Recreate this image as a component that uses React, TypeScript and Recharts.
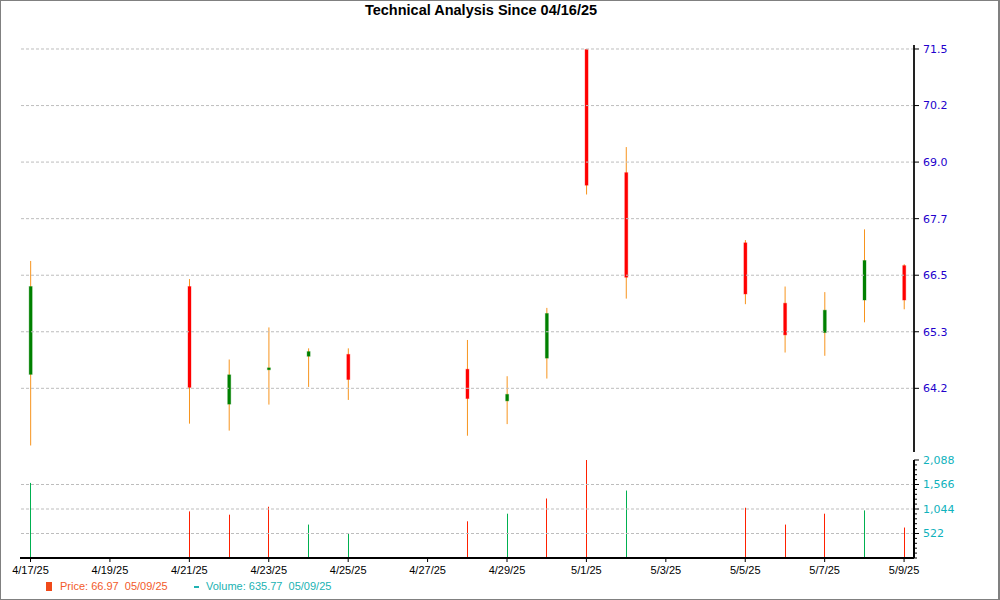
import React from 'react';
import { ComposedChart, Bar, XAxis, YAxis, ReferenceLine, Cell } from 'recharts';

// ---- data ----
const dates = ['4/17/25', '4/21/25', '4/22/25', '4/23/25', '4/24/25', '4/25/25', '4/28/25', '4/29/25', '4/30/25', '5/1/25', '5/2/25', '5/5/25', '5/6/25', '5/7/25', '5/8/25', '5/9/25'];
const dayIndex = [0, 4, 5, 6, 7, 8, 11, 12, 13, 14, 15, 18, 19, 20, 21, 22];
const opens = [64.5, 66.39, 63.86, 64.6, 64.89, 64.93, 64.61, 63.93, 64.85, 71.49, 68.84, 67.33, 66.03, 65.4, 66.1, 66.84];
const highs = [66.94, 66.55, 64.82, 65.51, 65.06, 65.06, 65.24, 64.46, 65.93, 71.5, 69.39, 67.39, 66.39, 66.27, 67.62, 66.87];
const lows = [62.97, 63.44, 63.29, 63.85, 64.23, 63.95, 63.18, 63.43, 64.41, 68.37, 66.13, 66.01, 64.97, 64.9, 65.62, 65.9];
const closes = [66.39, 64.22, 64.49, 64.64, 64.99, 64.39, 63.98, 64.07, 65.81, 68.57, 66.59, 66.23, 65.35, 65.88, 66.95, 66.1];
const volumes = [1600, 993, 923, 1092, 712, 522, 782, 944, 1268, 2088, 1437, 1071, 712, 944, 1014, 649];
const volumeDir = ['up', 'down', 'down', 'down', 'up', 'up', 'down', 'up', 'down', 'down', 'up', 'down', 'down', 'down', 'up', 'down'];

const xTickDays = [0, 2, 4, 6, 8, 10, 12, 14, 16, 18, 20, 22];
const xTickLabels = ['4/17/25', '4/19/25', '4/21/25', '4/23/25', '4/25/25', '4/27/25', '4/29/25', '5/1/25', '5/3/25', '5/5/25', '5/7/25', '5/9/25'];
const priceTickValues = [64.2, 65.417, 66.633, 67.85, 69.067, 70.283, 71.5];
const priceTickLabels = ['64.2', '65.3', '66.5', '67.7', '69.0', '70.2', '71.5'];
const volumeTickValues = [522, 1044, 1566, 2088];
const volumeTickLabels = ['522', '1,044', '1,566', '2,088'];

const titleText = 'Technical Analysis Since 04/16/25';
const legendPrice = 'Price: 66.97  05/09/25';
const legendVolume = 'Volume: 635.77  05/09/25';

// ---- build table ----
const rows = dates.map((d, i) => ({
  date: d,
  day: dayIndex[i],
  open: opens[i],
  high: highs[i],
  low: lows[i],
  close: closes[i],
  range: [lows[i], highs[i]],
  volume: volumes[i],
  vdir: volumeDir[i],
}));

const X_DOMAIN: [number, number] = [-0.265, 22.25];
const PRICE_DOMAIN: [number, number] = [62.83, 71.586];
const VOL_DOMAIN: [number, number] = [0, 2088];
const volMinorTicks = Array.from({ length: 21 }, (_, i) => (2088 / 20) * i);

const UP = '#008000';
const DOWN = '#ff0000';
const WICK = '#f7941d';
const GRID = '#bdbdbd';

const Candle = (props: any) => {
  const { x, y, width, height, payload } = props;
  if (payload == null || x == null) return null;
  const { open, close, high, low } = payload;
  const top = Math.min(y, y + height);
  const h = Math.abs(height);
  const ppu = h / (high - low || 1);
  const cx = x + width / 2;
  const yOf = (v: number) => top + (high - v) * ppu;
  const bTop = yOf(Math.max(open, close));
  const bBot = yOf(Math.min(open, close));
  const up = close >= open;
  const col = up ? UP : DOWN;
  return (
    <g>
      <line x1={cx} x2={cx} y1={top} y2={top + h} stroke={WICK} strokeWidth={1} />
      <rect x={cx - 2} y={bTop - 0.5} width={4} height={Math.max(bBot - bTop, 1) + 1} fill={col} fillOpacity={0.35} />
      <rect x={cx - 1.5} y={bTop} width={3} height={Math.max(bBot - bTop, 1)} fill={col} />
    </g>
  );
};

const VolBar = (props: any) => {
  const { x, y, width, height, payload } = props;
  if (payload == null || x == null) return null;
  const cx = Math.floor(x + width / 2);
  const top = Math.min(y, y + height);
  const h = Math.abs(height);
  return <rect x={cx} y={top} width={1} height={h} fill={payload.vdir === 'up' ? '#00b050' : '#ff2000'} />;
};

const VolTick = (props: any) => {
  const { x, y, payload } = props;
  const v = payload.value;
  const idx = volumeTickValues.findIndex((t) => Math.abs(t - v) < 0.5);
  const major = idx >= 0;
  return (
    <g>
      <line x1={x} x2={x + (major ? 5 : 3)} y1={y} y2={y} stroke="#000" strokeWidth={1} />
      {major && (
        <text x={x + 9} y={y} dy="0.36em" fill="#10b2bc" fontSize={11} fontFamily="DejaVu Sans, Verdana, sans-serif">
          {volumeTickLabels[idx]}
        </text>
      )}
    </g>
  );
};

export default function App() {
  return (
    <div style={{ position: 'absolute', left: 0, top: 0, width: 1000, height: 600, background: '#fff', fontFamily: 'Liberation Sans, Arial, sans-serif' }}>
      <div style={{ position: 'absolute', left: 0, top: 0, width: 1000, height: 600, boxSizing: 'border-box', border: '1px solid #808080', borderRightWidth: 2 }} />
      <div style={{ position: 'absolute', left: -19, top: 1.5, width: 1000, textAlign: 'center', fontWeight: 'bold', fontSize: 14.5, lineHeight: '17px', color: '#000' }}>
        {titleText}
      </div>

      <div style={{ position: 'absolute', left: 0, top: 0 }}>
        <ComposedChart width={1000} height={460} data={rows} margin={{ top: 45, right: 0, bottom: 8, left: 20 }}>
          {priceTickValues.map((v) => (
            <ReferenceLine key={v} y={v} stroke={GRID} strokeDasharray="3 2" />
          ))}
          <XAxis type="number" dataKey="day" domain={X_DOMAIN} allowDataOverflow hide />
          <YAxis
            orientation="right"
            width={86}
            domain={PRICE_DOMAIN}
            allowDataOverflow
            ticks={priceTickValues}
            interval={0}
            tickFormatter={(v: number, i: number) => priceTickLabels[priceTickValues.indexOf(v)] ?? priceTickLabels[i]}
            axisLine={{ stroke: '#222', strokeWidth: 2 }}
            tickLine={{ stroke: '#000' }}
            tickSize={5}
            tickMargin={4}
            tick={{ fill: '#2200cc', fontSize: 11, fontFamily: 'DejaVu Sans, Verdana, sans-serif' }}
          />
          <Bar dataKey="range" barSize={6} shape={<Candle />} isAnimationActive={false} />
        </ComposedChart>
      </div>

      <div style={{ position: 'absolute', left: 0, top: 0 }}>
        <ComposedChart width={1000} height={600} data={rows} margin={{ top: 460, right: 0, bottom: 12, left: 20 }}>
          {volumeTickValues.slice(0, 3).map((v) => (
            <ReferenceLine key={v} y={v} stroke={GRID} strokeDasharray="3 2" />
          ))}
          <XAxis
            type="number"
            dataKey="day"
            domain={X_DOMAIN}
            allowDataOverflow
            ticks={xTickDays}
            interval={0}
            height={30}
            tickFormatter={(v: number) => xTickLabels[xTickDays.indexOf(v)]}
            axisLine={{ stroke: '#000', strokeWidth: 2 }}
            tickLine={{ stroke: '#000' }}
            tickSize={4}
            tickMargin={4}
            tick={{ fill: '#000', fontSize: 11, fontFamily: 'Liberation Sans, Arial, sans-serif' }}
          />
          <YAxis
            orientation="right"
            width={86}
            domain={VOL_DOMAIN}
            allowDataOverflow
            ticks={volMinorTicks}
            interval={0}
            axisLine={{ stroke: '#000', strokeWidth: 2 }}
            tickLine={false}
            tickSize={0}
            tickMargin={0}
            tick={<VolTick />}
          />
          <Bar dataKey="volume" barSize={2} shape={<VolBar />} isAnimationActive={false}>
            {rows.map((r) => (
              <Cell key={r.date} fill={r.vdir === 'up' ? '#00b050' : '#ff2000'} />
            ))}
          </Bar>
        </ComposedChart>
      </div>

      <div style={{ position: 'absolute', left: 46, top: 582, width: 6, height: 9, background: '#f04a1a' }} />
      <div style={{ position: 'absolute', left: 60, top: 580, fontSize: 11, lineHeight: '13px', color: '#f25a29', whiteSpace: 'pre' }}>{legendPrice}</div>
      <div style={{ position: 'absolute', left: 194, top: 586, width: 5, height: 1.5, background: '#20b2b2' }} />
      <div style={{ position: 'absolute', left: 206, top: 580, fontSize: 11, lineHeight: '13px', color: '#20b2b2', whiteSpace: 'pre' }}>{legendVolume}</div>
    </div>
  );
}
